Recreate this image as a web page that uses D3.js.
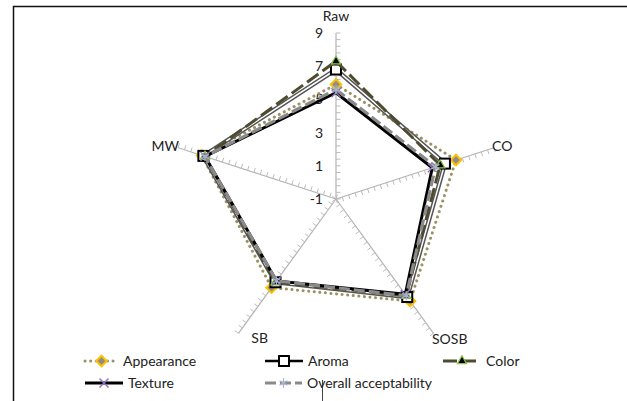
<!DOCTYPE html>
<html><head><meta charset="utf-8">
<script src="https://cdn.jsdelivr.net/npm/d3@7"></script>
<style>body{margin:0;background:#fff}svg{display:block}text{font-family:Lato,"Open Sans",sans-serif;fill:#222}</style>
</head><body><svg id="c" width="627" height="401"></svg>
<script>
const axesNames = ["Raw","CO","SOSB","SB","MW"];
const tickValues = [-1,1,3,5,7,9];
const appearance = [5.9,6.6,6.6,5.6,7.5];
const aroma = [6.8,5.9,6.3,5.2,7.4];
const color = [7.3,5.6,6.2,5.2,7.3];
const texture = [5.4,5.1,6.1,5.1,7.3];
const overall = [5.6,5.3,6.2,5.1,7.3];
const seriesNames = ["Appearance","Aroma","Color","Texture","Overall acceptability"];

const svg = d3.select("#c");
const cx = 336, cy = 199;
const r = d3.scaleLinear().domain([-1,9]).range([0,166]);
const ang = i => i * 2*Math.PI/axesNames.length;
const pt = (i,v) => [cx + r(v)*Math.sin(ang(i)), cy - r(v)*Math.cos(ang(i))];

// frame
svg.append("path").attr("d","M13.5,402 V6.5 H628").attr("fill","none").attr("stroke","#111").attr("stroke-width",1.5);
svg.append("line").attr("x1",322.5).attr("x2",322.5).attr("y1",380).attr("y2",401).attr("stroke","#444").attr("stroke-width",1);

// axes
const g = svg.append("g");
const minor = d3.range(-1, 9.001, 0.4);
axesNames.forEach((name,i)=>{
  const [x2,y2] = pt(i,9);
  g.append("line").attr("x1",cx).attr("y1",cy).attr("x2",x2).attr("y2",y2).attr("stroke","#b4b4b4").attr("stroke-width",1.2);
  const dx = Math.sin(ang(i)), dy = -Math.cos(ang(i));
  const tx = -dy, ty = dx;
  minor.forEach(v=>{
    const [px,py]=pt(i,v);
    g.append("line").attr("x1",px).attr("y1",py).attr("x2",px+tx*4.5).attr("y2",py+ty*4.5).attr("stroke","#bcbcbc").attr("stroke-width",1);
  });
});
tickValues.forEach(v=>{
  const [px,py]=pt(0,v);
  svg.append("text").attr("x",323).attr("y",py+5).attr("text-anchor","end").attr("font-size",14).text(v);
});
// axis labels
const lab = [[336,21,"middle"],[492,151,"start"],[432,344,"start"],[268,343,"end"],[179,151,"end"]];
axesNames.forEach((n,i)=>{
  svg.append("text").attr("x",lab[i][0]).attr("y",lab[i][1]).attr("text-anchor",lab[i][2]).attr("font-size",14).text(n);
});

const line = d3.line().curve(d3.curveLinearClosed);
function poly(vals){ return line(vals.map((v,i)=>pt(i,v))); }

const styles = [
 {data:appearance, stroke:"#9a9262", w:3, dash:"0.1,5.5", cap:"round", marker:"diamond"},
 {data:aroma, stroke:"#555", w:4.5, dash:null, inner:true, marker:"square"},
 {data:color, stroke:"#4e4b2e", w:3, dash:"14,5", marker:"triangle"},
 {data:texture, stroke:"#000", w:3, dash:null, marker:"x"},
 {data:overall, stroke:"#8a8a8a", w:3.2, dash:"11,4", marker:"star"}
];

function marker(sel, type, x, y){
  if(type==="diamond"){
    sel.append("path").attr("d",d3.symbol(d3.symbolDiamond2,70)()).attr("transform",`translate(${x},${y})`).attr("fill","#8c8c8c").attr("stroke","#ffc000").attr("stroke-width",2);
  } else if(type==="square"){
    sel.append("rect").attr("x",x-5).attr("y",y-5).attr("width",10).attr("height",10).attr("fill","#fff").attr("stroke","#000").attr("stroke-width",2);
  } else if(type==="triangle"){
    sel.append("path").attr("d",d3.symbol(d3.symbolTriangle2,60)()).attr("transform",`translate(${x},${y})`).attr("fill","#000").attr("stroke","#8bc34a").attr("stroke-width",1.2);
  } else if(type==="x"){
    sel.append("path").attr("d",d3.symbol(d3.symbolX,55)()).attr("transform",`translate(${x},${y})`).attr("fill","none").attr("stroke","#8a6fc0").attr("stroke-width",1.3);
  } else if(type==="star"){
    sel.append("path").attr("d",d3.symbol(d3.symbolAsterisk,60)()).attr("transform",`translate(${x},${y})`).attr("fill","none").attr("stroke","#a9b3c8").attr("stroke-width",1.2);
  }
}

styles.forEach(s=>{
  const p = svg.append("path").attr("d",poly(s.data)).attr("fill","none").attr("stroke",s.stroke).attr("stroke-width",s.w).attr("stroke-linejoin","miter");
  if(s.dash) p.attr("stroke-dasharray",s.dash);
  if(s.cap) p.attr("stroke-linecap",s.cap);
  if(s.inner) svg.append("path").attr("d",poly(s.data)).attr("fill","none").attr("stroke","#fff").attr("stroke-width",1.5);
  s.data.forEach((v,i)=>{ const [x,y]=pt(i,v); marker(svg,s.marker,x,y); });
});

// legend
const leg = [[85,361,0,33],[265,361,1,38],[443,361,2,38],[85,383,3,38],[265,383,4,37]];
leg.forEach(([x,y,k,len])=>{
  const s = styles[k];
  const lg = svg.append("g");
  const x2 = x+len;
  const l = lg.append("line").attr("x1",x).attr("x2",x2).attr("y1",y).attr("y2",y).attr("stroke",k===1?"#000":s.stroke).attr("stroke-width",k===1?2.5:s.w);
  if(s.dash) l.attr("stroke-dasharray",s.dash);
  if(s.cap) l.attr("stroke-linecap",s.cap);
  marker(lg,s.marker,x+len/2,y);
  svg.append("text").attr("x",x2+5).attr("y",y+5).attr("font-size",14).text(seriesNames[k]);
});
</script></body></html>
